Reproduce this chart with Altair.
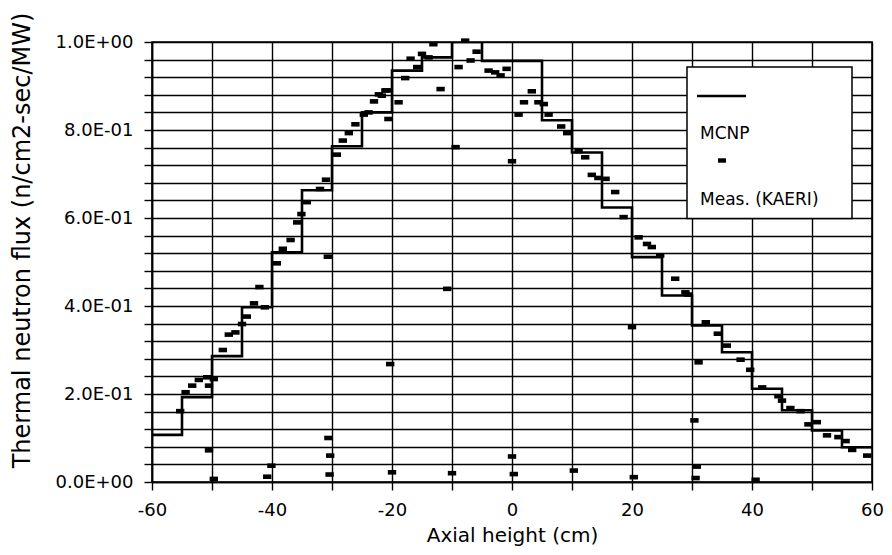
import altair as alt
import pandas as pd

# ---- data ----
bin_edges = [-60, -55, -50, -45, -40, -35, -30, -25, -20, -15, -10, -5, 0, 5, 10, 15, 20, 25, 30, 35, 40, 45, 50, 55]
mcnp_flux = [0.107, 0.193, 0.286, 0.397, 0.522, 0.663, 0.763, 0.840, 0.935, 0.965, 1.000, 0.957,
             0.957, 0.822, 0.749, 0.624, 0.511, 0.424, 0.356, 0.295, 0.212, 0.163, 0.117, 0.079]

meas_x = [-55.3, -54.4, -53.3, -52.2, -50.8, -50.5, -49.7, -50.5, -49.7,
          -48.2, -47.2, -46.1, -45.0, -44.2, -43.0, -42.1, -41.2, -40.8, -40.1,
          -39.2, -38.2, -36.9, -35.8, -35.1, -34.2, -32.0, -31.0, -30.7, -30.6, -30.3, -30.4,
          -29.2, -28.2, -27.2, -26.1, -24.7, -23.9, -23.0, -22.2, -21.1, -21.7, -20.8, -20.6, -20.3, -20.0,
          -18.9, -17.8, -16.9, -15.8, -15.0, -13.9, -13.1, -11.9, -10.8, -10.0, -9.4, -8.9, -7.8, -6.9,
          -5.9, -3.9, -2.8, -1.9, -0.9,
          0.0, 0.0, 0.3, 1.1, 2.0, 3.3, 4.4, 5.3, 6.1, 8.2, 9.2, 10.3, 11.1, 12.2, 13.3, 14.4, 15.6, 17.2, 18.6,
          20.0, 20.3, 21.1, 22.5, 23.3, 24.7, 27.2, 28.9, 29.4, 30.4, 30.8, 30.6, 31.1, 32.3, 34.3, 35.8, 38.1, 39.7,
          40.6, 41.7, 44.4, 45.0, 46.4, 48.1, 49.4, 50.8, 52.5, 54.4, 55.6, 56.7, 59.2]
meas_y = [0.161, 0.204, 0.219, 0.232, 0.238, 0.219, 0.234, 0.072, 0.007,
          0.300, 0.335, 0.340, 0.359, 0.376, 0.406, 0.443, 0.397, 0.012, 0.037,
          0.497, 0.530, 0.550, 0.590, 0.609, 0.636, 0.666, 0.687, 0.512, 0.100, 0.060, 0.017,
          0.744, 0.776, 0.793, 0.813, 0.835, 0.840, 0.865, 0.881, 0.890, 0.878, 0.890, 0.825, 0.268, 0.022,
          0.863, 0.918, 0.962, 0.943, 0.973, 0.965, 0.995, 0.893, 0.439, 0.020, 0.761, 0.943, 1.003, 0.958,
          0.978, 0.935, 0.931, 0.924, 0.939,
          0.729, 0.058, 0.018, 0.835, 0.863, 0.888, 0.863, 0.859, 0.835, 0.808, 0.793, 0.026, 0.752, 0.738, 0.698, 0.691, 0.689, 0.659, 0.602,
          0.352, 0.011, 0.556, 0.541, 0.534, 0.515, 0.462, 0.431, 0.426, 0.140, 0.035, 0.009, 0.272, 0.363, 0.337, 0.310, 0.278, 0.255,
          0.005, 0.215, 0.195, 0.185, 0.168, 0.161, 0.131, 0.136, 0.106, 0.102, 0.093, 0.073, 0.060]

x_grid = [-60, -50, -40, -30, -20, -10, 0, 10, 20, 30, 40, 50, 60]
x_labels = [-60, -40, -20, 0, 20, 40, 60]
y_grid = [round(i * 0.04, 2) for i in range(26)]
y_label_vals = [0.0, 0.2, 0.4, 0.6, 0.8, 1.0]
y_label_text = ["0.0E+00", "2.0E-01", "4.0E-01", "6.0E-01", "8.0E-01", "1.0E+00"]

series_names = ["MCNP", "Meas. (KAERI)"]

# ---- tables ----
step_df = pd.DataFrame({"x": bin_edges + [60], "y": mcnp_flux + [mcnp_flux[-1]]})
meas_df = pd.DataFrame({"x": meas_x, "y": meas_y})

FONT = "DejaVu Sans"
W, H = 720, 440

x_label_expr = "indexof([" + ",".join(str(v) for v in x_labels) + "], datum.value) >= 0 ? ('' + datum.value) : ''"
y_label_expr = "".join(
    f"abs(datum.value - {v}) < 0.001 ? '{t}' : " for v, t in zip(y_label_vals, y_label_text)
) + "''"

xscale = alt.Scale(domain=[-60, 60], nice=False, zero=False)
yscale = alt.Scale(domain=[0, 1], nice=False, zero=True)

x_axis = alt.Axis(
    values=x_grid, tickCount=40, labelExpr=x_label_expr, grid=True, gridColor="black", gridWidth=1.4,
    domainColor="black", domainWidth=1.6, tickColor="black", tickSize=8, tickWidth=1.4,
    labelFont=FONT, labelFontSize=18, labelColor="black", labelPadding=11,
    labelFlush=False, labelOverlap=False,
    title="Axial height (cm)", titleFont=FONT, titleFontSize=20, titleFontWeight="normal",
    titleColor="black", titleY=59, titleX=W / 2, titleBaseline="alphabetic", titleAlign="center",
)
y_axis = alt.Axis(
    values=y_grid, tickCount=40, labelExpr=y_label_expr, grid=True, gridColor="black", gridWidth=1.4,
    domainColor="black", domainWidth=1.6, tickColor="black", tickSize=8, tickWidth=1.4,
    labelFont=FONT, labelFontSize=18, labelColor="black", labelPadding=11,
    labelFlush=False, labelOverlap=False,
    title="Thermal neutron flux (n/cm2-sec/MW)", titleFont=FONT, titleFontSize=24,
    titleFontWeight="normal", titleColor="black", titleX=-130, titleY=198,
    titleAngle=270, titleAlign="center", titleBaseline="middle",
)

rect_shape = "M-1,-0.55H1V0.55H-1Z"

steps = alt.Chart(step_df).mark_line(
    interpolate="step-after", color="black", strokeWidth=2.6, clip=True
).encode(
    x=alt.X("x:Q", scale=xscale, axis=x_axis),
    y=alt.Y("y:Q", scale=yscale, axis=y_axis),
)

points = alt.Chart(meas_df).mark_point(
    shape=rect_shape, filled=True, color="black", size=70, opacity=1
).encode(
    x=alt.X("x:Q", scale=xscale),
    y=alt.Y("y:Q", scale=yscale),
)

one = pd.DataFrame({"k": [0]})

leg_box = alt.Chart(one).mark_rect(fill="white", stroke="black", strokeWidth=1.5).encode(
    x=alt.value(535), x2=alt.value(700), y=alt.value(25), y2=alt.value(176.5)
)
leg_line = alt.Chart(one).mark_rule(color="black", strokeWidth=2.6).encode(
    x=alt.value(545), x2=alt.value(594), y=alt.value(54)
)
leg_pt = alt.Chart(one).mark_point(
    shape=rect_shape, filled=True, color="black", size=64, opacity=1
).encode(x=alt.value(570), y=alt.value(118.5))
leg_t1 = alt.Chart(one).mark_text(
    text=series_names[0], font=FONT, fontSize=17, align="left", baseline="middle", color="black"
).encode(x=alt.value(548), y=alt.value(91.5))
leg_t2 = alt.Chart(one).mark_text(
    text=series_names[1], font=FONT, fontSize=17, align="left", baseline="middle", color="black"
).encode(x=alt.value(548), y=alt.value(157.5))

chart = alt.layer(steps, points, leg_box, leg_line, leg_pt, leg_t1, leg_t2).properties(
    width=W, height=H,
    autosize=alt.AutoSizeParams(type="none"),
    padding={"left": 144, "top": 34, "right": 12, "bottom": 64},
    background="white",
).configure_view(stroke="black", strokeWidth=1.6)

chart.save("out.html", embed_options={"renderer": "svg", "actions": False})
